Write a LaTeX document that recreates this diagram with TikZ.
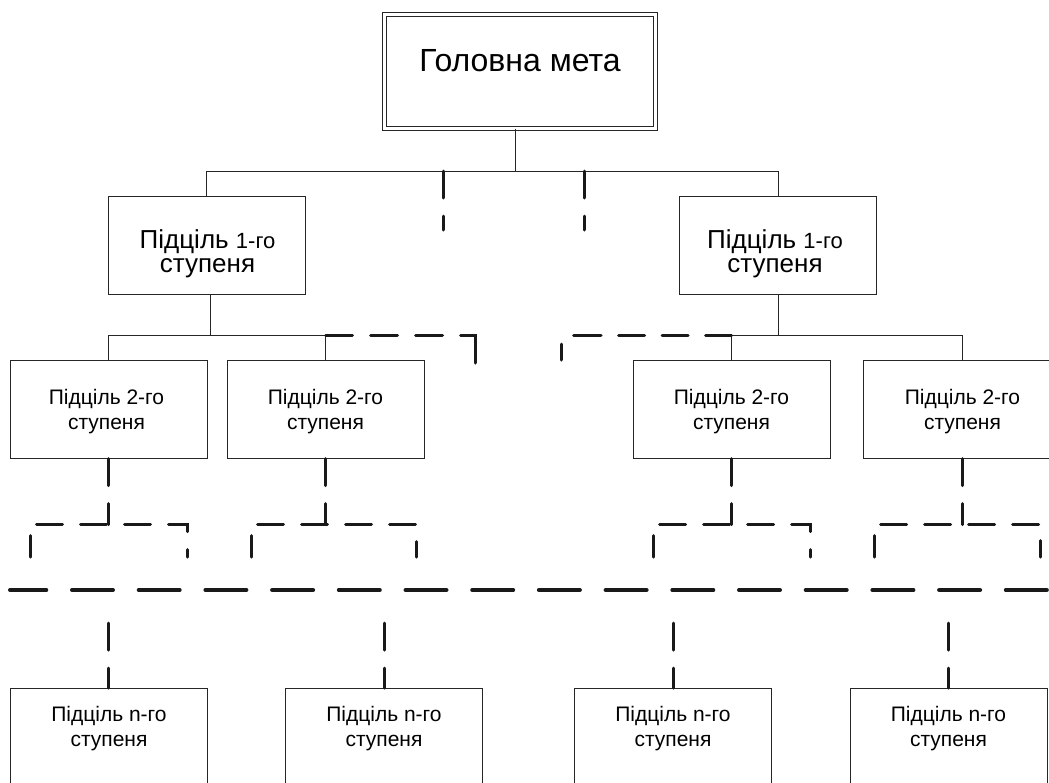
\documentclass[tikz,border=0pt]{standalone}
\usepackage{fontspec}
\setmainfont{Liberation Sans}

\begin{document}
\begin{tikzpicture}
[
x=1pt, y=-1pt,
thinline/.style={draw=black!85, line width=1pt},
mainbox/.style={thinline, double=white, double distance=3pt, minimum width=270.8pt, minimum height=114pt, inner sep=0pt},
subbox/.style={thinline, minimum width=197pt, minimum height=98pt, inner sep=0pt},
lowbox/.style={thinline, anchor=north, minimum width=197pt, minimum height=130pt, inner sep=0pt},
txt/.style={align=center, inner sep=0pt, font=\fontsize{21pt}{25pt}\selectfont},
bigtxt/.style={align=center, inner sep=0pt, font=\fontsize{26pt}{24pt}\selectfont},
dashbold/.style={draw=black!90, line width=3pt, line cap=round, dash pattern=on 27pt off 18pt},
bracket/.style={dashbold, dash pattern=on 26pt off 18pt, dash phase=4.5pt},
dashsep/.style={draw=black!90, line width=4pt, line cap=round, dash pattern=on 41pt off 25.7pt, dash phase=4.7pt},
]
\useasboundingbox (0,0) rectangle (1049,782);
\clip (0,0) rectangle (1049,782);

%Place the nodes
\node[mainbox] (goal) at (519.6,71) {};
\node[subbox] (s1a) at (206.5,245) {};	%level 1
\node[subbox] (s1b) at (778,245) {};
\node[subbox] (s2a) at (108.5,409) {};	%level 2
\node[subbox] (s2b) at (325.5,409) {};
\node[subbox] (s2c) at (731.5,409) {};
\node[subbox] (s2d) at (962,409) {};
\node[lowbox] (sna) at (108.5,688) {};	%level n
\node[lowbox] (snb) at (384,688) {};
\node[lowbox] (snc) at (673,688) {};
\node[lowbox] (snd) at (948.5,688) {};

%texts
\node[inner sep=0pt, font=\fontsize{32pt}{38pt}\selectfont] (goal-t) at (520,60.5) {Головна мета};
\node[bigtxt] (s1a-t) at (207.5,253.5) {Підціль {\fontsize{22pt}{24pt}\selectfont 1-го}\\ступеня};
\node[bigtxt] (s1b-t) at (775,253.5) {Підціль {\fontsize{22pt}{24pt}\selectfont 1-го}\\ступеня};
\node[txt] (s2a-t) at (106.5,412) {Підціль 2-го\\ступеня};
\node[txt] (s2b-t) at (325.5,412) {Підціль 2-го\\ступеня};
\node[txt] (s2c-t) at (731.5,412) {Підціль 2-го\\ступеня};
\node[txt] (s2d-t) at (962.5,412) {Підціль 2-го\\ступеня};
\node[txt] (sna-t) at (109,729) {Підціль n-го\\ступеня};
\node[txt] (snb-t) at (384,729) {Підціль n-го\\ступеня};
\node[txt] (snc-t) at (673,729) {Підціль n-го\\ступеня};
\node[txt] (snd-t) at (948.5,729) {Підціль n-го\\ступеня};

%junctions
\coordinate (j0) at (515,171);
\coordinate (j1) at (210,335);
\coordinate (j2) at (778,335);
\coordinate (u1) at (443,230);
\coordinate (u2) at (584,230);
\coordinate (c1) at (475,363);
\coordinate (c2) at (561,363);

%connections
\draw[thinline] (goal.south -| j0) -- (j0);
\draw[thinline] (s1a.north) -- (s1a.north |- j0) -- (s1b.north |- j0) -- (s1b.north);
\draw[thinline] (s1a.south -| j1) -- (j1);
\draw[thinline] (s2a.north) -- (s2a.north |- j1) -- (s2b.north |- j1) -- (s2b.north);
\draw[thinline] (s1b.south) -- (j2);
\draw[thinline] (s2c.north) -- (s2c.north |- j2) -- (s2d.north |- j2) -- (s2d.north);

%open branches
\draw[dashbold] (j0 -| u1) -- (u1);
\draw[dashbold] (j0 -| u2) -- (u2);
\draw[dashbold, dash pattern=on 27pt off 18pt on 27pt off 18pt on 27pt off 18pt on 60pt off 1pt] (s2b.north |- j1) -| (c1);
\draw[dashbold, dash pattern=on 26pt off 17.5pt on 26pt off 17.5pt on 26pt off 17.5pt on 27.5pt off 21.5pt on 16pt off 10pt] (s2c.north |- j2) -| (c2);

%brackets under level 2
\draw[dashbold] (s2a.south) -- ++(0,66);
\draw[dashbold] (s2b.south) -- ++(0,66);
\draw[dashbold] (s2c.south) -- ++(0,66);
\draw[dashbold] (s2d.south) -- ++(0,66);
\coordinate (ba1) at (30,557);   \coordinate (ba2) at (187,557);
\coordinate (bb1) at (251,557);  \coordinate (bb2) at (416,557);
\coordinate (bc1) at (653,557);  \coordinate (bc2) at (810,557);
\coordinate (bd1) at (874,557);  \coordinate (bd2) at (1040,557);
\draw[bracket] (ba1) -- ++(0,-33) -| (ba2);
\draw[bracket] (bb1) -- ++(0,-33) -| (bb2);
\draw[bracket] (bc1) -- ++(0,-33) -| (bc2);
\draw[bracket] (bd1) -- ++(0,-33) -| (bd2);

%separator
\coordinate (sepL) at (10,590);
\coordinate (sepR) at (1062,590);
\draw[dashsep] (sepL) -- (sepR);

%to level n
\draw[dashbold] ([yshift=65pt]sna.north) -- (sna.north);
\draw[dashbold] ([yshift=65pt]snb.north) -- (snb.north);
\draw[dashbold] ([yshift=65pt]snc.north) -- (snc.north);
\draw[dashbold] ([yshift=65pt]snd.north) -- (snd.north);
\end{tikzpicture}
\end{document}
